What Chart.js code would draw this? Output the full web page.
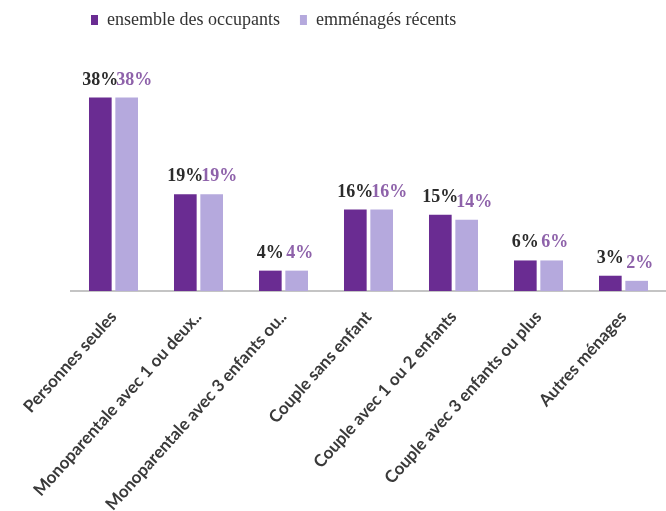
<!DOCTYPE html>
<html>
<head>
<meta charset="utf-8">
<script src="https://cdn.jsdelivr.net/npm/chart.js@4/dist/chart.umd.min.js"></script>
<style>
  html, body { margin: 0; padding: 0; background: #ffffff; }
  #wrap { width: 666px; height: 511px; position: relative; }
</style>
</head>
<body>
<div id="wrap"><canvas id="c" width="666" height="511"></canvas></div>
<script>
// Household types
const categories = [
  "Personnes seules",
  "Monoparentale avec 1 ou deux..",
  "Monoparentale avec 3 enfants ou..",
  "Couple sans enfant",
  "Couple avec 1 ou 2 enfants",
  "Couple avec 3 enfants ou plus",
  "Autres ménages"
];
// Share of households (%)
const ensembleDesOccupants = [38, 19, 4, 16, 15, 6, 3];
const emmenagesRecents = [38, 19, 4, 16, 14, 6, 2];
const seriesNames = ["ensemble des occupants", "emménagés récents"];

const DARK = "#6a2c92";
const LIGHT = "#b5a9dd";

// Percent labels above each bar
const valueLabels = {
  id: "valueLabels",
  afterDatasetsDraw(chart) {
    const ctx = chart.ctx;
    ctx.save();
    ctx.font = "bold 18px 'Liberation Serif', 'DejaVu Serif', serif";
    ctx.textBaseline = "alphabetic";
    chart.data.datasets.forEach((ds, di) => {
      const meta = chart.getDatasetMeta(di);
      meta.data.forEach((bar, i) => {
        const txt = ds.data[i] + "%";
        if (di === 0) {
          ctx.fillStyle = "#2b2b2b";
          ctx.textAlign = "center";
          ctx.fillText(txt, bar.x, bar.y - 13);
        } else {
          ctx.fillStyle = "#8e62aa";
          ctx.textAlign = "left";
          ctx.fillText(txt, bar.x - bar.width / 2 + 1, bar.y - 13);
        }
      });
    });
    ctx.restore();
  }
};

new Chart(document.getElementById("c"), {
  type: "bar",
  data: {
    labels: categories,
    datasets: [
      { label: seriesNames[0], data: ensembleDesOccupants, backgroundColor: DARK },
      { label: seriesNames[1], data: emmenagesRecents, backgroundColor: LIGHT }
    ]
  },
  options: {
    responsive: false,
    animation: false,
    devicePixelRatio: 1,
    layout: { padding: { left: 71, right: 0, top: -9, bottom: 0 } },
    datasets: {
      bar: { categoryPercentage: 0.62, barPercentage: 0.86 }
    },
    plugins: {
      legend: {
        position: "top",
        align: "start",
        labels: {
          boxWidth: 7,
          boxHeight: 10,
          padding: 20,
          color: "#333333",
          font: { family: "'Liberation Serif', 'DejaVu Serif', serif", size: 18 }
        }
      },
      tooltip: { enabled: false }
    },
    scales: {
      x: {
        grid: { display: false },
        border: { display: true, color: "#c4c4c4", width: 2 },
        afterFit(scale) { scale.height = 220; },
        ticks: {
          autoSkip: false,
          minRotation: 48,
          maxRotation: 48,
          padding: 8,
          color: "#3a3a3a",
          font: { family: "Lato, 'Liberation Sans', sans-serif", size: 17, weight: "bold" }
        }
      },
      y: {
        display: false,
        min: 0,
        max: 49.5
      }
    }
  },
  plugins: [valueLabels]
});
</script>
</body>
</html>
